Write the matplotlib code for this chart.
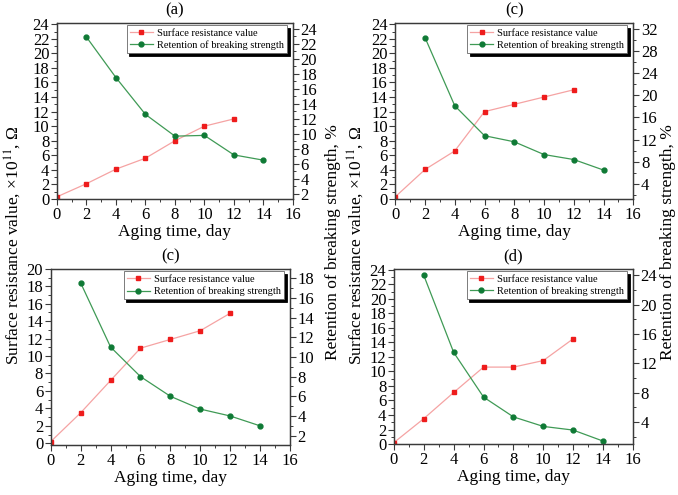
import matplotlib
matplotlib.use('Agg')
import matplotlib.pyplot as plt
from matplotlib.ticker import MultipleLocator

plt.rcParams['font.family'] = ['Liberation Serif', 'DejaVu Serif']
plt.rcParams['mathtext.fontset'] = 'stix'

# aging time (days)
days_res = [0, 2, 4, 6, 8, 10, 12]
days_ret = [2, 4, 6, 8, 10, 12, 14]

# surface resistance value, x10^11 Ohm
res_a = [0.3, 2.1, 4.1, 5.6, 8.0, 10.0, 11.0]
res_c1 = [0.3, 4.05, 6.6, 12.0, 13.0, 14.0, 15.0]
res_c2 = [0.2, 3.5, 7.2, 10.9, 11.9, 12.9, 14.9]
res_d = [0.2, 3.5, 7.1, 10.6, 10.6, 11.5, 14.5]

# retention of breaking strength, %
ret_a = [22.9, 17.5, 12.6, 9.7, 9.8, 7.2, 6.5]
ret_c1 = [30.4, 18.1, 12.7, 11.6, 9.3, 8.4, 6.5]
ret_c2 = [17.5, 11.0, 8.0, 6.0, 4.7, 4.0, 3.0]
ret_d = [24.0, 13.5, 7.4, 4.7, 3.4, 2.9, 1.4]

titles = ['(a)', '(c)', '(c)', '(d)']

red_line = '#f5a3a3'
red_mark = '#ee1c1c'
green_line = '#3f9a55'
green_mark = '#0f7a35'
spine_col = '#3a3a3a'

fig = plt.figure(figsize=(6.78, 4.95), dpi=100)

panels = [
    # rect, left ylim, left major, right ylim, right major, right minor, res, ret
    ([0.084, 0.598, 0.348, 0.356], (0, 24.2), 2, (1.33, 24.8), 2, 1, res_a, ret_a),
    ([0.583, 0.598, 0.351, 0.356], (0, 24.2), 2, (1.28, 33.08), 4, 2, res_c1, ret_c1),
    ([0.075, 0.101, 0.3525, 0.356], (-0.2, 20.0), 2, (1.05, 18.95), 2, 1, res_c2, ret_c2),
    ([0.581, 0.103, 0.3525, 0.354], (0, 24.15), 2, (1.0, 24.9), 4, 2, res_d, ret_d),
]

for i, (rect, ylim1, maj1, ylim2, maj2, min2, res, ret) in enumerate(panels):
    ax = fig.add_axes(rect)
    ax2 = ax.twinx()

    l1, = ax.plot(days_res, res, '-', color=red_line, lw=0.9, marker='s', ms=3.5,
                  mfc=red_mark, mec=red_mark, label='Surface resistance value')
    l2, = ax2.plot(days_ret, ret, '-', color=green_line, lw=0.9, marker='o', ms=3.5,
                   mfc=green_mark, mec=green_mark, label='Retention of breaking strength')

    ax.set_xlim(0, 16)
    ax.set_ylim(*ylim1)
    ax2.set_ylim(*ylim2)
    ax.xaxis.set_major_locator(MultipleLocator(2))
    ax.xaxis.set_minor_locator(MultipleLocator(1))
    ax.yaxis.set_major_locator(MultipleLocator(maj1))
    ax.yaxis.set_minor_locator(MultipleLocator(1))
    ax2.yaxis.set_major_locator(MultipleLocator(maj2))
    ax2.yaxis.set_minor_locator(MultipleLocator(min2))

    for a in (ax, ax2):
        for s in a.spines.values():
            s.set_color(spine_col)
            s.set_linewidth(0.9)
        a.tick_params(which='major', length=4, width=0.8, color=spine_col,
                      labelsize=12, pad=1.5)
        a.tick_params(which='minor', length=2, width=0.7, color=spine_col)

    ax.set_xlabel('Aging time, day', fontsize=12.5, labelpad=1)
    ax.set_title(titles[i], fontsize=12, pad=6)

    leg = ax2.legend([l1, l2], [l1.get_label(), l2.get_label()], loc='upper right',
                     bbox_to_anchor=(0.975, 0.985), borderaxespad=0, fontsize=7.5,
                     frameon=True, fancybox=False, shadow={'color': 'black', 'alpha': 1},
                     handlelength=2.2, handletextpad=0.4, labelspacing=0.25,
                     borderpad=0.3)
    leg.get_frame().set_edgecolor('#666666')
    leg.get_frame().set_linewidth(0.6)

left_label = 'Surface resistance value, ×10$^{11}$, Ω'
right_label = 'Retention of breaking strength, %'
fig.text(0.018, 0.505, left_label, rotation=90, ha='center', va='center', fontsize=12.5)
fig.text(0.491, 0.51, right_label, rotation=90, ha='center', va='center', fontsize=12.5)
fig.text(0.525, 0.505, left_label, rotation=90, ha='center', va='center', fontsize=12.5)
fig.text(0.985, 0.51, right_label, rotation=90, ha='center', va='center', fontsize=12.5)

fig.savefig('out.png', dpi=100)
